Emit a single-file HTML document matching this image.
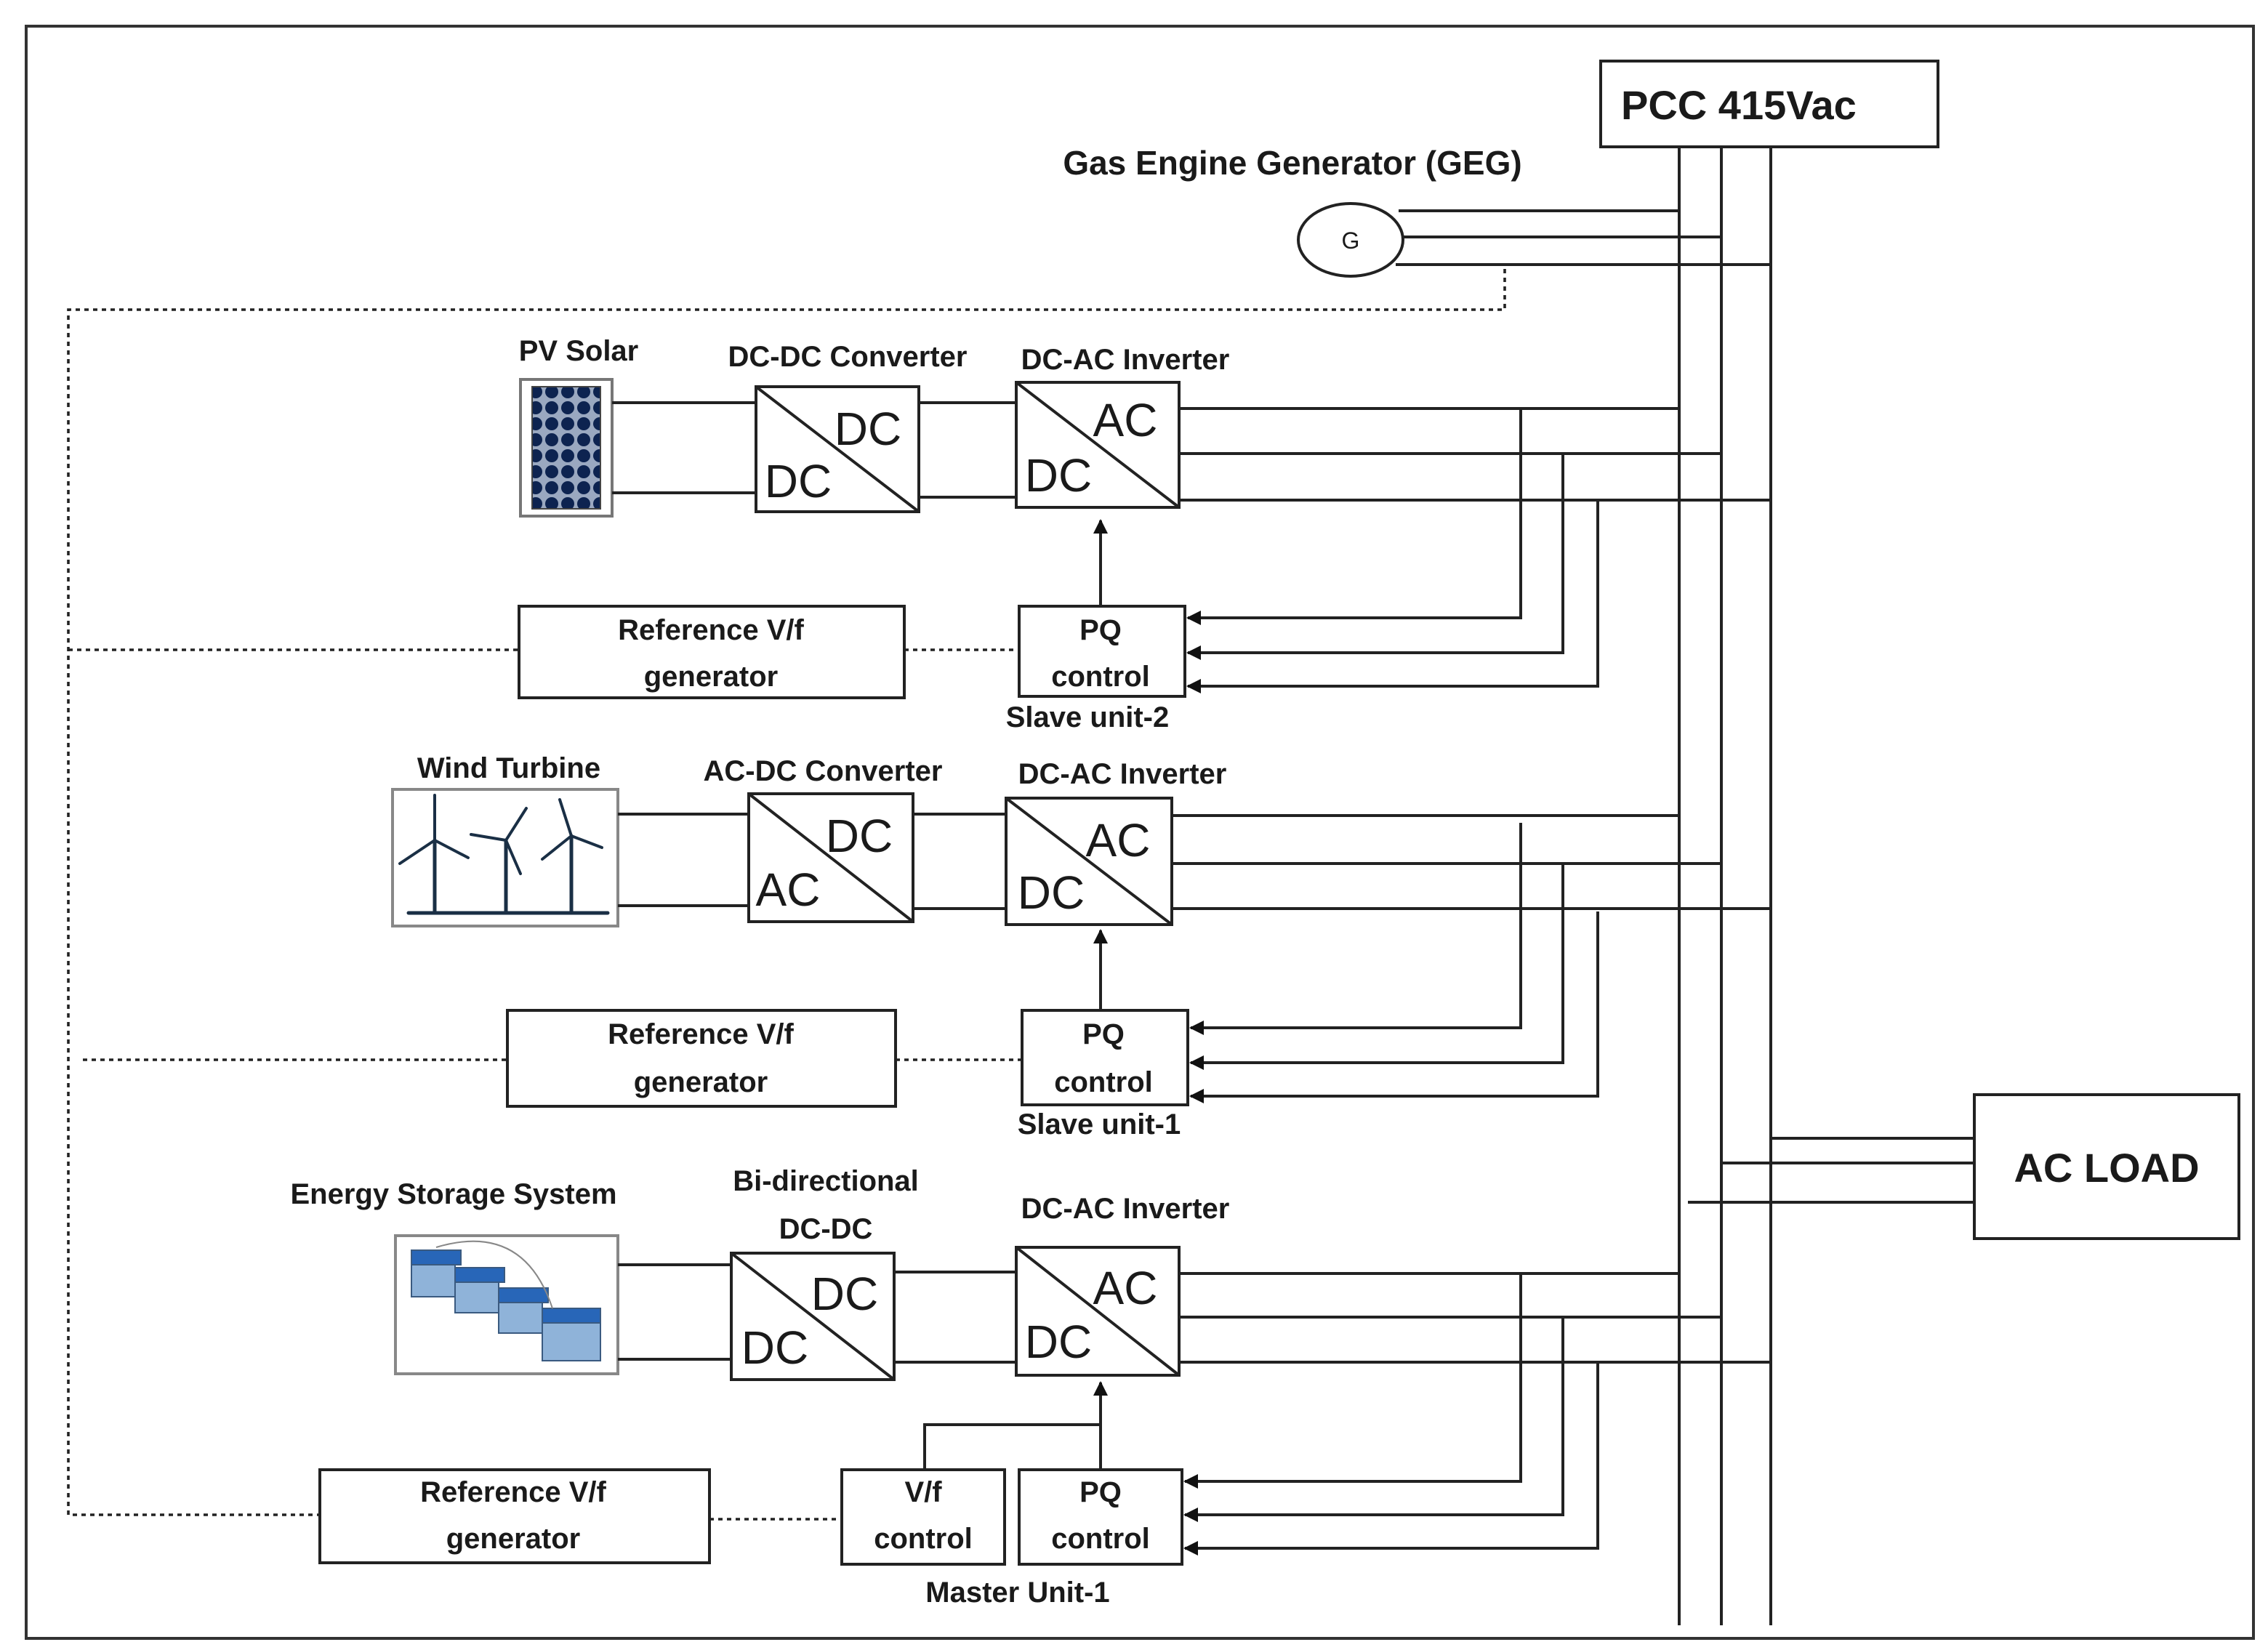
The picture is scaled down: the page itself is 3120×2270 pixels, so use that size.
<!DOCTYPE html>
<html><head><meta charset="utf-8"><style>
html,body{margin:0;padding:0;background:#fff}
svg{display:block}
text{font-family:"Liberation Sans",sans-serif;fill:#1a1a1a}
.l{font-size:20px;font-weight:bold;text-anchor:middle}
.b{font-size:32px;text-anchor:middle}
</style></head><body>
<svg width="3120" height="2270" viewBox="0 0 1560 1135" xmlns="http://www.w3.org/2000/svg">
<defs>
<marker id="ah" markerWidth="10" markerHeight="10" refX="9" refY="5" orient="auto" markerUnits="userSpaceOnUse"><path d="M0,0 L10,5 L0,10 z" fill="#111"/></marker>
<pattern id="cells" width="11" height="11" patternUnits="userSpaceOnUse"><rect width="11" height="11" fill="#9aa8c0"/><circle cx="5.5" cy="5.5" r="4.5" fill="#0d2350"/></pattern>
</defs>
<rect x="0" y="0" width="1560" height="1135" fill="#fff"/>
<rect x="18" y="18" width="1532" height="1109" fill="none" stroke="#333" stroke-width="2"/>
<g stroke="#222" stroke-width="2" fill="none">
<!-- bus -->
<line x1="1155" y1="101" x2="1155" y2="1118"/>
<line x1="1184" y1="101" x2="1184" y2="1118"/>
<line x1="1218" y1="101" x2="1218" y2="1118"/>
<rect x="1101" y="42" width="232" height="59" fill="#fff"/>
<!-- GEG -->
<ellipse cx="929" cy="165" rx="36" ry="25"/>
<line x1="962" y1="145" x2="1155" y2="145"/>
<line x1="965" y1="163" x2="1184" y2="163"/>
<line x1="960" y1="182" x2="1218" y2="182"/>
<!-- dotted -->
<g stroke-dasharray="3,3" stroke-width="1.8">
<polyline points="1035,185 1035,213 47,213 47,1042 220,1042"/>
<line x1="47" y1="447" x2="357" y2="447"/>
<line x1="622" y1="447" x2="701" y2="447"/>
<line x1="57" y1="729" x2="349" y2="729"/>
<line x1="616" y1="729" x2="703" y2="729"/>
<line x1="488" y1="1045" x2="579" y2="1045"/>
</g>
<!-- PV -->
<rect x="358" y="261" width="63" height="94" fill="#fff" stroke="#777" stroke-width="2"/>
<rect x="366" y="266" width="47" height="84" fill="url(#cells)" stroke="#444" stroke-width="1"/>
<line x1="421" y1="277" x2="520" y2="277"/><line x1="421" y1="339" x2="520" y2="339"/>
<rect x="520" y="266" width="112" height="86"/><line x1="520" y1="266" x2="632" y2="352"/>
<line x1="632" y1="277" x2="699" y2="277"/><line x1="632" y1="342" x2="699" y2="342"/>
<rect x="699" y="263" width="112" height="86"/><line x1="699" y1="263" x2="811" y2="349"/>
<line x1="811" y1="281" x2="1155" y2="281"/><line x1="811" y1="312" x2="1184" y2="312"/><line x1="811" y1="344" x2="1218" y2="344"/>
<polyline points="1046,281 1046,425 817,425" marker-end="url(#ah)"/>
<polyline points="1075,312 1075,449 817,449" marker-end="url(#ah)"/>
<polyline points="1099,344 1099,472 817,472" marker-end="url(#ah)"/>
<rect x="701" y="417" width="114" height="62"/>
<line x1="757" y1="417" x2="757" y2="358" marker-end="url(#ah)"/>
<rect x="357" y="417" width="265" height="63"/>
<!-- Wind -->
<rect x="270" y="543" width="155" height="94" stroke="#888"/>
<line x1="425" y1="560" x2="515" y2="560"/><line x1="425" y1="623" x2="515" y2="623"/>
<rect x="515" y="546" width="113" height="88"/><line x1="515" y1="546" x2="628" y2="634"/>
<line x1="628" y1="560" x2="692" y2="560"/><line x1="628" y1="625" x2="692" y2="625"/>
<rect x="692" y="549" width="114" height="87"/><line x1="692" y1="549" x2="806" y2="636"/>
<line x1="806" y1="561" x2="1155" y2="561"/><line x1="806" y1="594" x2="1184" y2="594"/><line x1="806" y1="625" x2="1218" y2="625"/>
<polyline points="1046,566 1046,707 819,707" marker-end="url(#ah)"/>
<polyline points="1075,594 1075,731 819,731" marker-end="url(#ah)"/>
<polyline points="1099,627 1099,754 819,754" marker-end="url(#ah)"/>
<rect x="703" y="695" width="114" height="65"/>
<line x1="757" y1="695" x2="757" y2="640" marker-end="url(#ah)"/>
<rect x="349" y="695" width="267" height="66"/>
<!-- ESS -->
<rect x="272" y="850" width="153" height="95" stroke="#888"/>
<line x1="425" y1="870" x2="503" y2="870"/><line x1="425" y1="935" x2="503" y2="935"/>
<rect x="503" y="862" width="112" height="87"/><line x1="503" y1="862" x2="615" y2="949"/>
<line x1="615" y1="875" x2="699" y2="875"/><line x1="615" y1="937" x2="699" y2="937"/>
<rect x="699" y="858" width="112" height="88"/><line x1="699" y1="858" x2="811" y2="946"/>
<line x1="811" y1="876" x2="1155" y2="876"/><line x1="811" y1="906" x2="1184" y2="906"/><line x1="811" y1="937" x2="1218" y2="937"/>
<polyline points="1046,876 1046,1019 815,1019" marker-end="url(#ah)"/>
<polyline points="1075,906 1075,1042 815,1042" marker-end="url(#ah)"/>
<polyline points="1099,937 1099,1065 815,1065" marker-end="url(#ah)"/>
<rect x="701" y="1011" width="112" height="65"/>
<rect x="579" y="1011" width="112" height="65"/>
<line x1="757" y1="1011" x2="757" y2="951" marker-end="url(#ah)"/>
<polyline points="636,1011 636,980 757,980"/>
<rect x="220" y="1011" width="268" height="64"/>
<!-- AC load -->
<line x1="1218" y1="783" x2="1358" y2="783"/>
<line x1="1184" y1="800" x2="1358" y2="800"/>
<line x1="1161" y1="827" x2="1358" y2="827"/>
<rect x="1358" y="753" width="182" height="99" fill="#fff"/>
</g>
<!-- wind turbines -->
<g stroke="#1a2f45" fill="none" stroke-linecap="round">
<line x1="281" y1="628" x2="418" y2="628" stroke-width="2.5"/>
<g stroke-width="2.5"><line x1="299" y1="578" x2="299" y2="627"/><line x1="348" y1="578" x2="348" y2="627"/><line x1="393" y1="575" x2="393" y2="627"/></g>
<g stroke-width="2"><path d="M299,578 L299,547 M299,578 L275,594 M299,578 L322,590"/>
<path d="M348,578 L362,556 M348,578 L324,574 M348,578 L358,601"/>
<path d="M393,575 L385,550 M393,575 L414,583 M393,575 L373,591"/></g>
</g>
<!-- batteries -->
<g stroke="#3a5a80" stroke-width="1">
<g fill="#8fb3d9"><rect x="283" y="867" width="30" height="25"/><rect x="313" y="878" width="30" height="25"/><rect x="343" y="892" width="30" height="25"/><rect x="373" y="906" width="40" height="30"/></g>
<g fill="#2866b8"><rect x="283" y="860" width="34" height="10"/><rect x="313" y="872" width="34" height="10"/><rect x="343" y="886" width="34" height="10"/><rect x="373" y="900" width="40" height="10"/></g>
<path d="M300,858 Q360,840 380,900" fill="none" stroke="#888"/>
</g>
<!-- text -->
<text x="1115" y="82" style="font-size:28px;font-weight:bold">PCC 415Vac</text>
<text x="889" y="120" class="l" style="font-size:23px">Gas Engine Generator (GEG)</text>
<text x="929" y="171" style="font-size:16px;text-anchor:middle">G</text>
<text x="398" y="248" class="l">PV Solar</text>
<text x="583" y="252" class="l">DC-DC Converter</text>
<text x="774" y="254" class="l">DC-AC Inverter</text>
<text x="597" y="306" class="b">DC</text><text x="549" y="342" class="b">DC</text>
<text x="774" y="300" class="b">AC</text><text x="728" y="338" class="b">DC</text>
<text x="489" y="440" class="l">Reference V/f</text><text x="489" y="472" class="l">generator</text>
<text x="757" y="440" class="l">PQ</text><text x="757" y="472" class="l">control</text>
<text x="748" y="500" class="l">Slave unit-2</text>
<text x="350" y="535" class="l">Wind Turbine</text>
<text x="566" y="537" class="l">AC-DC Converter</text>
<text x="772" y="539" class="l">DC-AC Inverter</text>
<text x="591" y="586" class="b">DC</text><text x="542" y="623" class="b">AC</text>
<text x="769" y="589" class="b">AC</text><text x="723" y="625" class="b">DC</text>
<text x="482" y="718" class="l">Reference V/f</text><text x="482" y="751" class="l">generator</text>
<text x="759" y="718" class="l">PQ</text><text x="759" y="751" class="l">control</text>
<text x="756" y="780" class="l">Slave unit-1</text>
<text x="312" y="828" class="l">Energy Storage System</text>
<text x="568" y="819" class="l">Bi-directional</text><text x="568" y="852" class="l">DC-DC</text>
<text x="774" y="838" class="l">DC-AC Inverter</text>
<text x="581" y="901" class="b">DC</text><text x="533" y="938" class="b">DC</text>
<text x="774" y="897" class="b">AC</text><text x="728" y="934" class="b">DC</text>
<text x="353" y="1033" class="l">Reference V/f</text><text x="353" y="1065" class="l">generator</text>
<text x="635" y="1033" class="l">V/f</text><text x="635" y="1065" class="l">control</text>
<text x="757" y="1033" class="l">PQ</text><text x="757" y="1065" class="l">control</text>
<text x="700" y="1102" class="l">Master Unit-1</text>
<text x="1449" y="813" style="font-size:28px;font-weight:bold;text-anchor:middle">AC LOAD</text>
</svg>
</body></html>
